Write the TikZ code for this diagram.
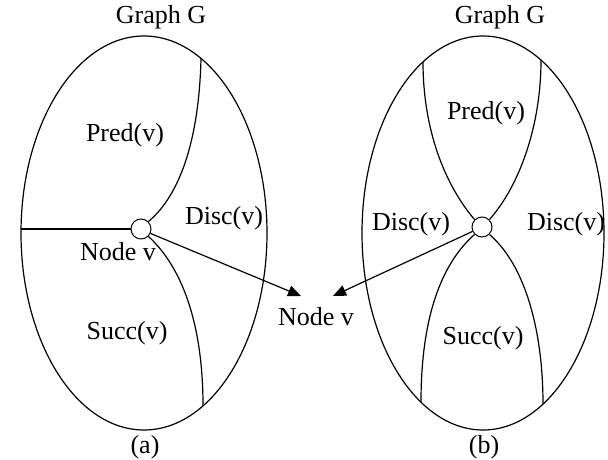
\documentclass[tikz,border=0pt]{standalone}
\usepackage{fontspec}
\setmainfont{Liberation Serif}
\usetikzlibrary{arrows.meta}
\tikzset{
  lbl/.style={font=\fontsize{26}{30}\selectfont, inner sep=1pt},
  vnode/.style={circle, draw, fill=white, minimum size=20pt, inner sep=0pt, line width=1pt},
  edge/.style={line width=1.2pt},
  arr/.style={line width=1.2pt, -{Triangle[length=13pt,width=11pt]}}
}
\begin{document}
\begin{tikzpicture}[x=1pt,y=-1pt]
\useasboundingbox (0,0) rectangle (608,460);
% ellipses
\draw[edge] (144,233) ellipse [x radius=123pt, y radius=197pt];
\draw[edge] (483,233) ellipse [x radius=121pt, y radius=197pt];
% nodes
\node[vnode] (va) at (141,229) {};
\node[vnode] (vb) at (482,227) {};
\coordinate (la) at (21,229);
\coordinate (ta1) at (201,58.4);
\coordinate (ba1) at (203,405.9);
\coordinate (tb1) at (423,61.9);
\coordinate (tb2) at (541,60.1);
\coordinate (bb1) at (421,402.2);
\coordinate (bb2) at (543,404.1);
% (a) partitions
\draw[edge] (la) -- (va.west);
\draw[edge] (va.45) .. controls (180,195) and (199,140) .. (ta1);
\draw[edge] (va.-45) .. controls (185,270) and (203,330) .. (ba1);
% (b) partitions
\draw[edge] (vb.135) .. controls (445,185) and (423,130) .. (tb1);
\draw[edge] (vb.45) .. controls (520,185) and (541,125) .. (tb2);
\draw[edge] (vb.-135) .. controls (440,265) and (421,320) .. (bb1);
\draw[edge] (vb.-45) .. controls (525,265) and (543,330) .. (bb2);
% labels
\node[lbl] (ga) at (161,17) {Graph G};
\node[lbl] (gb) at (500,17) {Graph G};
\node[lbl] (preda) at (125,135) {Pred(v)};
\node[lbl] (disca) at (224,218) {Disc(v)};
\node[lbl] (nva) at (118,252) {Node v};
\node[lbl] (succa) at (127,333) {Succ(v)};
\node[lbl] (capa) at (145,447) {(a)};
\node[lbl] (predb) at (486,113) {Pred(v)};
\node[lbl] (discb1) at (411,224) {Disc(v)};
\node[lbl] (discb2) at (566,224) {Disc(v)};
\node[lbl] (succb) at (483,338) {Succ(v)};
\node[lbl] (capb) at (484,447) {(b)};
\node[lbl] (mid) at (316,317) {Node v};
% arrows
\coordinate (tipa) at (301,296);
\coordinate (tipb) at (333,296);
\draw[arr] (va.-25) -- (tipa);
\draw[arr] (vb.-155) -- (tipb);
\end{tikzpicture}
\end{document}
